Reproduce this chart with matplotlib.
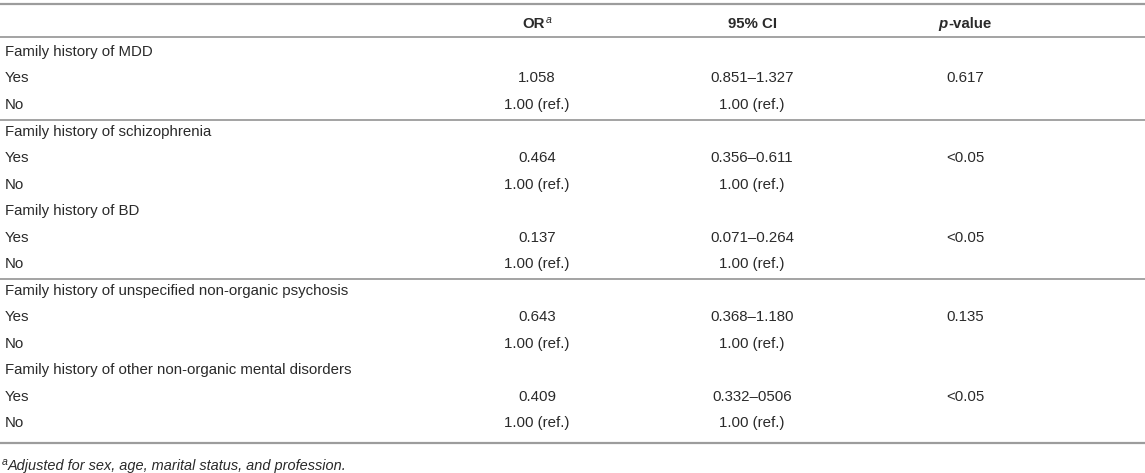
import matplotlib
matplotlib.use("Agg")
import matplotlib.pyplot as plt

# -------------------------
# Table content
# -------------------------
groups = [
    "Family history of MDD",
    "Family history of schizophrenia",
    "Family history of BD",
    "Family history of unspecified non-organic psychosis",
    "Family history of other non-organic mental disorders",
]
or_yes = ["1.058", "0.464", "0.137", "0.643", "0.409"]
ci_yes = ["0.851\u20131.327", "0.356\u20130.611", "0.071\u20130.264", "0.368\u20131.180", "0.332\u20130506"]
p_yes = ["0.617", "<0.05", "<0.05", "0.135", "<0.05"]
ref_text = "1.00 (ref.)"
footnote = "Adjusted for sex, age, marital status, and profession."

# groups followed by a rule
rule_after = [0, 2]

# -------------------------
# Layout (pixels)
# -------------------------
W, H = 1145, 473
FONT = "Liberation Sans"
FS = 10.8
TXT = "#2a2a2a"
RULE = "#9c9c9c"
col_x = {"or": 537, "ci": 752, "p": 965}
row0, row_h = 52, 26.5

fig = plt.figure(figsize=(W / 100, H / 100), dpi=100)
ax = fig.add_axes([0, 0, 1, 1])
ax.set_xlim(0, W)
ax.set_ylim(H, 0)
ax.set_axis_off()

renderer = fig.canvas.get_renderer()


def rich(x, y, pieces, center=True):
    # pieces: (text, size, style, weight, dy)
    arts = []
    widths = []
    for txt, size, style, weight, dy in pieces:
        t = ax.text(0, y + dy, txt, fontsize=size, style=style, weight=weight,
                    family=FONT, color=TXT, va="center", ha="left")
        w = t.get_window_extent(renderer).width
        arts.append(t)
        widths.append(w)
    total = sum(widths)
    cur = x - total / 2 if center else x
    for t, w in zip(arts, widths):
        t.set_x(cur)
        cur += w


def hrule(y, lw=1.3):
    ax.plot([0, W], [y, y], color=RULE, lw=lw, solid_capstyle="butt")


# rules
hrule(4, 1.6)
hrule(37)
hrule(443, 1.6)

# header
hy = 24
rich(col_x["or"], hy, [("OR", FS, "normal", "bold", 0), ("a", FS * 0.7, "italic", "normal", -4)])
rich(col_x["ci"], hy, [("95% CI", FS, "normal", "bold", 0)])
rich(col_x["p"], hy, [("p", FS, "italic", "bold", 0), ("-value", FS, "normal", "bold", 0)])

# body
for i, g in enumerate(groups):
    y_g = row0 + row_h * 3 * i
    y_yes = y_g + row_h
    y_no = y_g + 2 * row_h
    ax.text(5, y_g, g, fontsize=FS, family=FONT, color=TXT, va="center")
    ax.text(5, y_yes, "Yes", fontsize=FS, family=FONT, color=TXT, va="center")
    ax.text(5, y_no, "No", fontsize=FS, family=FONT, color=TXT, va="center")
    ax.text(col_x["or"], y_yes, or_yes[i], fontsize=FS, family=FONT, color=TXT, va="center", ha="center")
    ax.text(col_x["ci"], y_yes, ci_yes[i], fontsize=FS, family=FONT, color=TXT, va="center", ha="center")
    ax.text(col_x["p"], y_yes, p_yes[i], fontsize=FS, family=FONT, color=TXT, va="center", ha="center")
    ax.text(col_x["or"], y_no, ref_text, fontsize=FS, family=FONT, color=TXT, va="center", ha="center")
    ax.text(col_x["ci"], y_no, ref_text, fontsize=FS, family=FONT, color=TXT, va="center", ha="center")
    if i in rule_after:
        hrule(y_no + 15)

# footnote
rich(2, 466, [("a", FS * 0.7, "italic", "normal", -4), (footnote, FS * 0.97, "italic", "normal", 0)], center=False)

fig.savefig("out.png", dpi=100, facecolor="white")
